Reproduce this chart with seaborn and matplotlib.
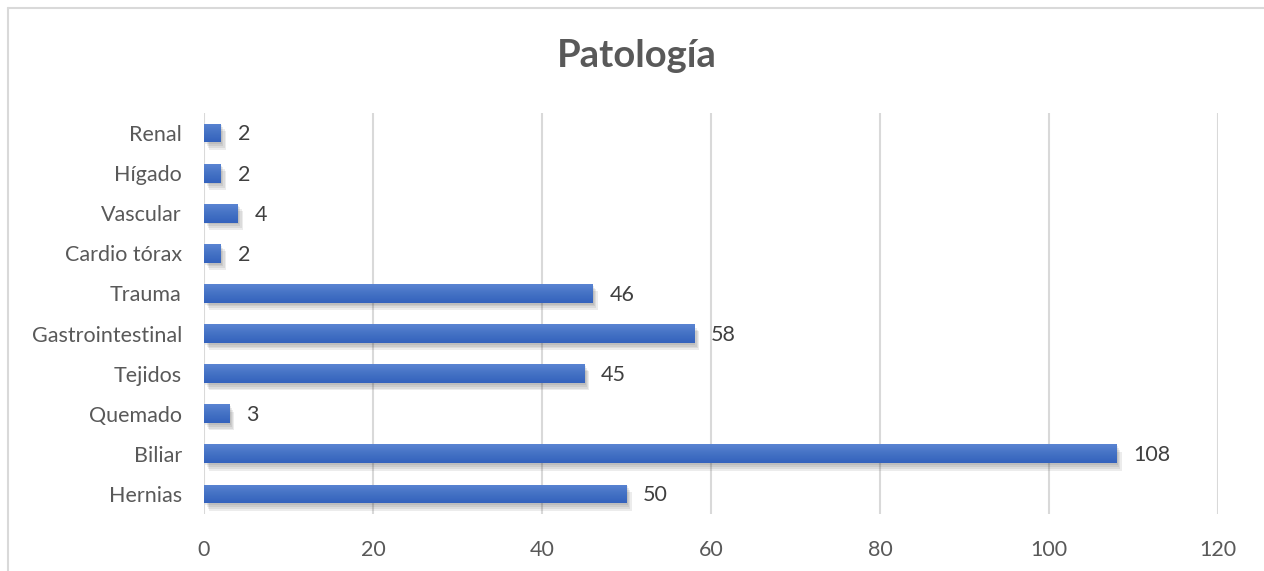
import numpy as np
import pandas as pd
import matplotlib
matplotlib.use("Agg")
import matplotlib.pyplot as plt
import matplotlib.patheffects as pe
from matplotlib.lines import Line2D
import seaborn as sns

# Cases per pathology group
categorias = ["Renal", "Hígado", "Vascular", "Cardio tórax", "Trauma",
              "Gastrointestinal", "Tejidos", "Quemado", "Biliar", "Hernias"]
casos = [2, 2, 4, 2, 46, 58, 45, 3, 108, 50]
xticks = [0, 20, 40, 60, 80, 100, 120]
titulo = "Patología"

df = pd.DataFrame({"categoria": categorias, "casos": casos})

sns.set_theme(style="white")
plt.rcParams["font.family"] = ["Lato", "DejaVu Sans"]

fig = plt.figure(figsize=(12.64, 5.71), dpi=100)
ax = fig.add_axes([0.1614, 0.0998, 0.8022, 0.7023])

bar_color = "#4472C4"
sns.barplot(data=df, x="casos", y="categoria", order=categorias,
            color=bar_color, saturation=1, width=0.47, ax=ax, zorder=3)

# Vertical gradient + soft shadow on each bar
grad = np.linspace(0, 1, 64).reshape(-1, 1)
cmap = matplotlib.colors.LinearSegmentedColormap.from_list(
    "barfill", ["#5A84D2", "#4472C4", "#3462BD"])
shadow = [pe.SimplePatchShadow(offset=(k * 0.9, -k * 1.3), alpha=0.09,
                               shadow_rgbFace="#303030") for k in (1, 2, 3, 4)]
for patch in ax.patches:
    patch.set_edgecolor("none")
    patch.set_path_effects(shadow + [pe.Normal()])
    x0, y0 = patch.get_x(), patch.get_y()
    w, h = patch.get_width(), patch.get_height()
    im = ax.imshow(grad, cmap=cmap, aspect="auto", zorder=4,
                   extent=(x0, x0 + w, y0 + h, y0), interpolation="bilinear")
    im.set_clip_path(patch)

ax.set_xlim(0, 120)
ax.set_ylim(len(categorias) - 0.5, -0.5)
ax.set_xticks(xticks)
ax.set_xticklabels([str(t) for t in xticks])
ax.set_xlabel("")
ax.set_ylabel("")

ax.grid(axis="x", color="#D9D9D9", linewidth=1.5, zorder=0)
ax.grid(axis="y", visible=False)
for s in ax.spines.values():
    s.set_visible(False)
ax.tick_params(axis="both", length=0, labelsize=15.5, colors="#595959")
ax.tick_params(axis="x", pad=19)
ax.tick_params(axis="y", pad=16)

# Value labels
for i, v in enumerate(casos):
    ax.annotate(str(v), xy=(v, i), xytext=(12, -1), textcoords="offset points",
                va="center", ha="left", fontsize=15.5, color="#404040", zorder=5)

fig.text(0.504, 0.902, titulo, ha="center", va="center", fontsize=27.5,
         fontweight="bold", color="#595959")

# Chart frame
fx, fy = 8 / 1264, 1 - 8 / 571
fig.add_artist(Line2D([fx, 1.0], [fy, fy], transform=fig.transFigure,
                      color="#D9D9D9", linewidth=1.5))
fig.add_artist(Line2D([fx, fx], [0.0, fy], transform=fig.transFigure,
                      color="#D9D9D9", linewidth=1.5))

fig.savefig("out.png", dpi=100)
